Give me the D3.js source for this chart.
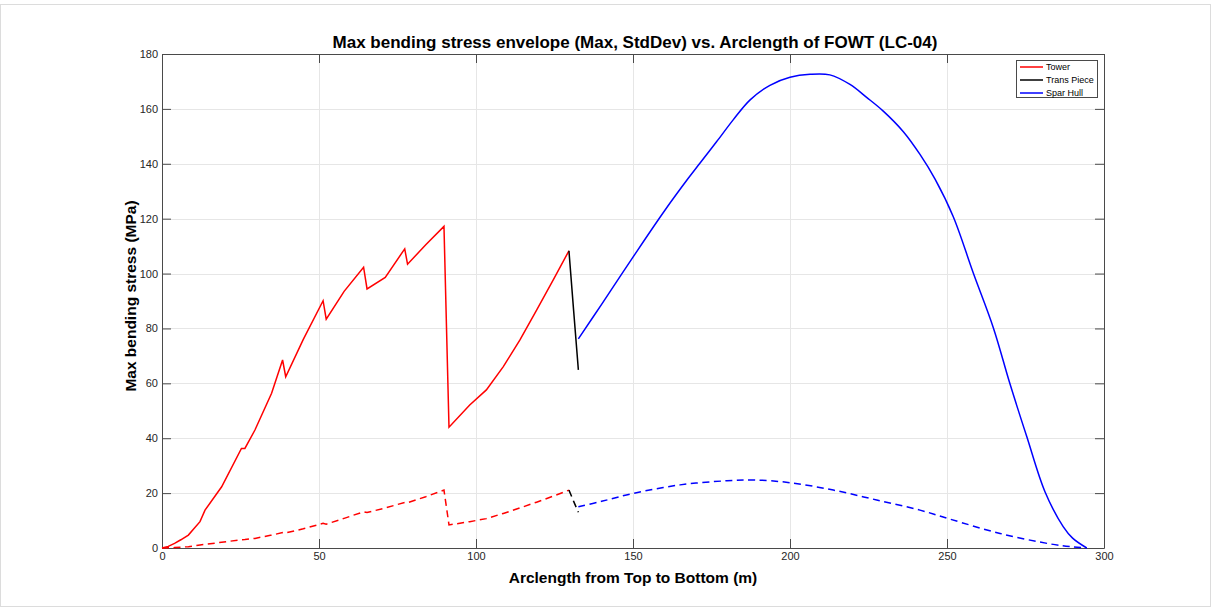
<!DOCTYPE html>
<html>
<head>
<meta charset="utf-8">
<script src="https://cdn.jsdelivr.net/npm/d3@7"></script>
<style>
  html, body { margin: 0; padding: 0; background: #fff; }
  svg { display: block; font-family: "Liberation Sans", Arial, Helvetica, sans-serif; }
</style>
</head>
<body>
<svg id="chart" width="1215" height="611"></svg>
<script>
// Tower: arclength (m), max bending stress (MPa), std-dev of bending stress (MPa)
const towerArc = [0, 2, 4, 6, 8.4, 10, 12.1, 13.7, 19, 25.3, 26.4, 29.6, 34.9, 38.4, 39.4, 45, 51.3, 52.3, 58, 64.2, 65.3, 71.1, 77.3, 78.2, 84, 89.8, 91.4, 98, 103.3, 108.7, 114, 119.3, 124.6, 129.6];
const towerMax = [0, 0.6, 1.7, 3, 4.7, 6.8, 9.6, 13.8, 22.3, 36.3, 36.3, 43, 56.4, 68.5, 62.4, 76, 90.1, 83.4, 93.5, 102.3, 94.4, 98.6, 109, 103.4, 110.5, 117.2, 44, 52.1, 57.6, 66.1, 75.8, 86.7, 97.7, 108.3];
const towerStd = [0, 0.05, 0.15, 0.3, 0.5, 0.7, 1.1, 1.3, 2.1, 3.0, 3.1, 3.5, 4.7, 5.6, 5.5, 7.0, 9.0, 8.7, 10.8, 13.2, 12.9, 14.6, 16.6, 16.5, 18.7, 21.1, 8.4, 9.6, 10.7, 12.6, 14.6, 16.7, 18.9, 21.1];

// Transition piece
const transArc = [129.6, 131.1, 132.6];
const transMax = [108.3, 86.4, 64.9];
const transStd = [21.1, 17.0, 13.0];

// Spar hull
const sparArc = [132.6, 140, 150, 160, 167.6, 171.3, 176.6, 181.9, 187.3, 193.6, 200, 206.4, 212.7, 219.1, 224.4, 229.7, 236.1, 241.4, 246.2, 252, 258.4, 264.8, 270, 275.4, 281.2, 287, 290, 294.5];
const sparMax = [76.2, 88.8, 106, 122.8, 134.7, 140.2, 148, 156, 163.3, 168.6, 171.5, 172.6, 172.4, 168.9, 164.2, 159.2, 151.7, 143.4, 134.4, 120.7, 100.1, 80.1, 60, 40.6, 20.5, 7.8, 3.6, 0];
const sparStdArc = [132.6, 140, 150.1, 165, 179.9, 188.3, 200, 213.8, 227.6, 241.4, 251, 266.9, 282.8, 290, 294.5];
const sparStd = [15, 17, 19.9, 23, 24.5, 24.8, 23.8, 21.1, 17.5, 13.8, 10.5, 5.3, 1.5, 0.4, 0];

const xTicks = [0, 50, 100, 150, 200, 250, 300];
const yTicks = [0, 20, 40, 60, 80, 100, 120, 140, 160, 180];
const seriesNames = ["Tower", "Trans Piece", "Spar Hull"];
const seriesColors = ["#ff0000", "#000000", "#0000ff"];

const titleText = "Max bending stress envelope (Max, StdDev) vs. Arclength of FOWT (LC-04)";
const xLabelText = "Arclength from Top to Bottom (m)";
const yLabelText = "Max bending stress (MPa)";

const plot = { left: 162, right: 1104, top: 54, bottom: 548 };

const svg = d3.select("#chart");

// light figure frame
svg.append("rect")
  .attr("x", 0.5).attr("y", 4.5)
  .attr("width", 1210).attr("height", 602)
  .attr("fill", "#fff").attr("stroke", "#dcdcdc");

const x = d3.scaleLinear().domain([0, 300]).range([plot.left, plot.right]);
const y = d3.scaleLinear().domain([0, 180]).range([plot.bottom, plot.top]);

// grid
const grid = svg.append("g");
grid.selectAll("line.gx").data(xTicks.slice(1, -1)).join("line")
  .attr("x1", d => Math.round(x(d)) + 0.5).attr("x2", d => Math.round(x(d)) + 0.5)
  .attr("y1", plot.top).attr("y2", plot.bottom)
  .attr("stroke", "#e6e6e6").attr("stroke-width", 1);
grid.selectAll("line.gy").data(yTicks.slice(1, -1)).join("line")
  .attr("y1", d => Math.round(y(d)) + 0.5).attr("y2", d => Math.round(y(d)) + 0.5)
  .attr("x1", plot.left).attr("x2", plot.right)
  .attr("stroke", "#e6e6e6").attr("stroke-width", 1);

// axes: inward ticks on all four sides
const axisColor = "#4a4a4a";
const tickLen = 9;
function styleAxis(g) {
  g.select(".domain").attr("stroke", axisColor);
  g.selectAll(".tick line").attr("stroke", axisColor);
  g.selectAll(".tick text").attr("fill", "#262626").attr("font-size", 11);
}
svg.append("g").attr("transform", `translate(0,${plot.bottom})`)
  .call(d3.axisBottom(x).tickValues(xTicks).tickSizeInner(-tickLen).tickSizeOuter(0).tickPadding(4))
  .call(styleAxis);
svg.append("g").attr("transform", `translate(0,${plot.top})`)
  .call(d3.axisTop(x).tickValues(xTicks).tickSizeInner(-tickLen).tickSizeOuter(0).tickFormat(""))
  .call(styleAxis);
svg.append("g").attr("transform", `translate(${plot.left},0)`)
  .call(d3.axisLeft(y).tickValues(yTicks).tickSizeInner(-tickLen).tickSizeOuter(0).tickPadding(4))
  .call(styleAxis);
svg.append("g").attr("transform", `translate(${plot.right},0)`)
  .call(d3.axisRight(y).tickValues(yTicks).tickSizeInner(-tickLen).tickSizeOuter(0).tickFormat(""))
  .call(styleAxis);

// curves
const lineLinear = d3.line().x(d => x(d[0])).y(d => y(d[1]));
const lineSmooth = d3.line().x(d => x(d[0])).y(d => y(d[1])).curve(d3.curveCatmullRom.alpha(0.5));
const zip = (a, b) => a.map((v, i) => [v, b[i]]);

const curves = [
  { pts: zip(towerArc, towerMax), color: seriesColors[0], dash: null, gen: lineLinear },
  { pts: zip(transArc, transMax), color: seriesColors[1], dash: null, gen: lineLinear },
  { pts: zip(sparArc, sparMax), color: seriesColors[2], dash: null, gen: lineSmooth },
  { pts: zip(towerArc, towerStd), color: seriesColors[0], dash: "7,4.5", gen: lineLinear },
  { pts: zip(transArc, transStd), color: seriesColors[1], dash: "7,4.5", gen: lineLinear },
  { pts: zip(sparStdArc, sparStd), color: seriesColors[2], dash: "7,4.5", gen: lineSmooth }
];
svg.append("g").selectAll("path").data(curves).join("path")
  .attr("d", d => d.gen(d.pts))
  .attr("fill", "none")
  .attr("stroke", d => d.color)
  .attr("stroke-width", 1.5)
  .attr("stroke-dasharray", d => d.dash);

// title and axis labels
svg.append("text").attr("x", 635).attr("y", 48)
  .attr("text-anchor", "middle").attr("font-size", 17).attr("font-weight", "bold")
  .attr("fill", "#000").text(titleText);
svg.append("text").attr("x", 633).attr("y", 583)
  .attr("text-anchor", "middle").attr("font-size", 15.5).attr("font-weight", "bold")
  .attr("fill", "#000").text(xLabelText);
svg.append("text").attr("transform", `translate(136,296) rotate(-90)`)
  .attr("text-anchor", "middle").attr("font-size", 15.5).attr("font-weight", "bold")
  .attr("fill", "#000").text(yLabelText);

// legend
const lg = svg.append("g");
lg.append("rect").attr("x", 1016.5).attr("y", 60.5).attr("width", 81).attr("height", 37)
  .attr("fill", "#fff").attr("stroke", axisColor);
seriesNames.forEach((name, i) => {
  const ly = 67 + i * 13;
  lg.append("line").attr("x1", 1020).attr("x2", 1043).attr("y1", ly).attr("y2", ly)
    .attr("stroke", seriesColors[i]).attr("stroke-width", 1.5);
  lg.append("text").attr("x", 1046).attr("y", ly + 3.3).attr("font-size", 9)
    .attr("fill", "#000").text(name);
});
</script>
</body>
</html>
